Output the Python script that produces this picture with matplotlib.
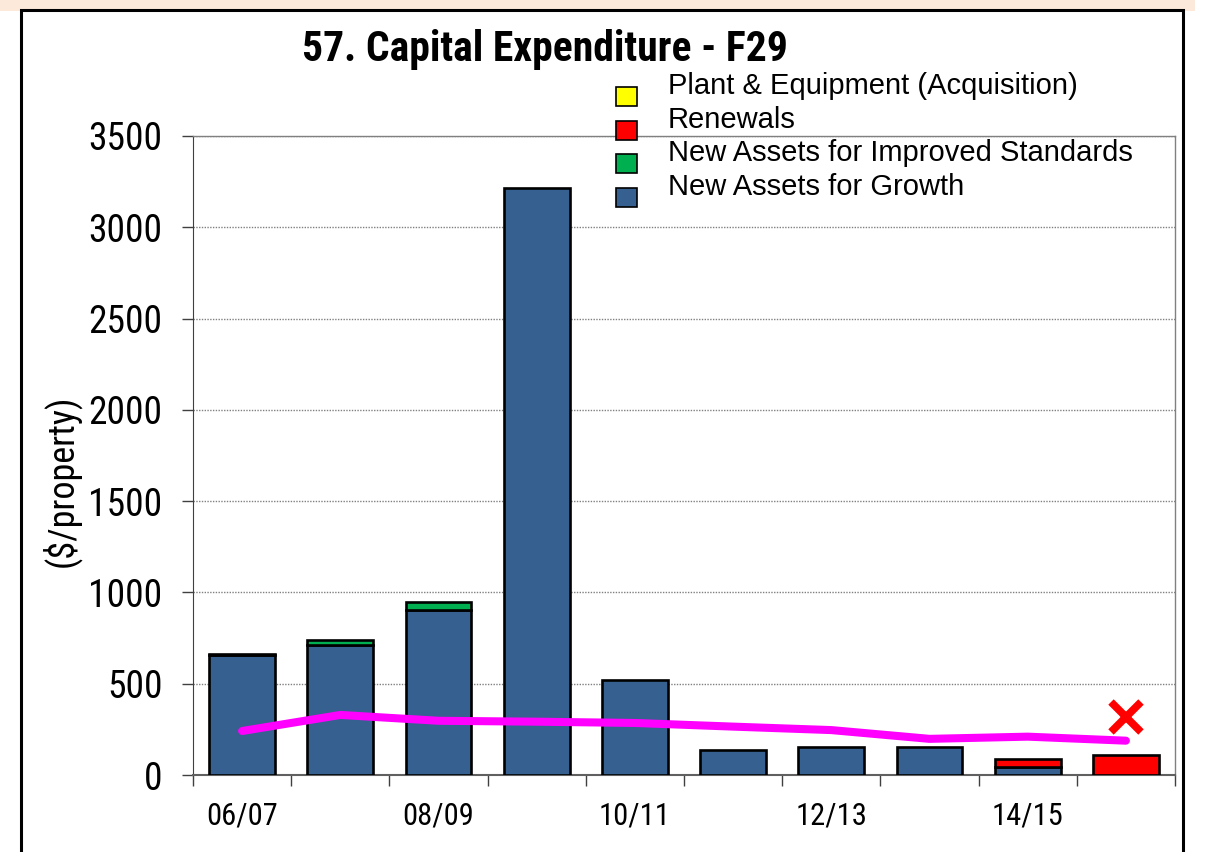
import matplotlib
matplotlib.use("Agg")
import matplotlib.pyplot as plt
from matplotlib.patches import Rectangle
import numpy as np

# ---- data ----
categories = ["06/07", "07/08", "08/09", "09/10", "10/11", "11/12", "12/13", "13/14", "14/15", "15/16"]
growth = [655, 710, 905, 3215, 520, 137, 152, 152, 42, 0]
improved = [10, 28, 45, 0, 0, 0, 0, 0, 0, 0]
renewals = [0, 0, 0, 0, 0, 0, 0, 0, 44, 110]
plant = [0, 0, 0, 0, 0, 0, 0, 0, 0, 0]
median_line = [241, 329, 297, 292, 285, 265, 246, 198, 210, 188]
target_x_value = 318
yticks = [0, 500, 1000, 1500, 2000, 2500, 3000, 3500]
legend_labels = ["Plant & Equipment (Acquisition)", "Renewals",
                 "New Assets for Improved Standards", "New Assets for Growth"]
legend_colors = ["#FFFF00", "#FF0000", "#00B050", "#36608F"]

NARROW = ["Roboto Condensed", "Liberation Sans", "DejaVu Sans"]
REG = ["Liberation Sans", "DejaVu Sans"]

W, H = 1209, 852
fig = plt.figure(figsize=(W / 100, H / 100), dpi=100)
fig.patch.set_facecolor("white")

# peach strip at top and black frame
fig.patches.append(Rectangle((0, 1 - 11 / H), 1195 / W, 11 / H, transform=fig.transFigure,
                             facecolor="#FDE9D9", edgecolor="none", zorder=0))
fig.patches.append(Rectangle((21 / W, -0.05), (1183 - 21) / W, 1 - 10 / H + 0.05,
                             transform=fig.transFigure, facecolor="none",
                             edgecolor="black", linewidth=2.2, zorder=1))

ax = fig.add_axes([193 / W, 1 - 775 / H, (1175 - 193) / W, (775 - 136) / H])
x = np.arange(len(categories))
bw = 0.67
bottom = np.zeros(len(categories))
for vals, col in [(growth, legend_colors[3]), (improved, legend_colors[2]),
                  (renewals, legend_colors[1]), (plant, legend_colors[0])]:
    v = np.array(vals, dtype=float)
    mask = v > 0
    ax.bar(x[mask], v[mask], bw, bottom=bottom[mask], color=col,
           edgecolor="black", linewidth=1.9, zorder=3)
    bottom += v

ax.plot(x, median_line, color="#FF00FF", linewidth=5.8, solid_capstyle="round", zorder=4)
ax.plot([x[-1]], [target_x_value], marker="x", color="#FF0000", markersize=21,
        markeredgewidth=5.5, linestyle="none", zorder=5)

ax.set_xlim(-0.5, len(categories) - 0.5)
ax.set_ylim(0, 3500)
ax.set_yticks(yticks)
ax.set_yticklabels([str(t) for t in yticks], fontsize=27, family=NARROW)
ax.tick_params(axis="y", length=8, width=1, direction="out", pad=14, color="#404040")
ax.yaxis.grid(True, linestyle=(0, (1, 1)), color="#808080", linewidth=1, zorder=0)
ax.set_axisbelow(True)

ax.set_xticks(np.arange(-0.5, len(categories), 1.0))
ax.set_xticklabels([])
ax.tick_params(axis="x", which="major", length=8, width=1, direction="out", color="#404040")
ax.set_xticks(x[::2], minor=True)
ax.set_xticklabels(categories[::2], minor=True, fontsize=22, family=NARROW)
ax.tick_params(axis="x", which="minor", length=0, pad=19)

for s in ["top", "right"]:
    ax.spines[s].set_color("#808080")
    ax.spines[s].set_linewidth(1)
ax.spines["left"].set_color("#404040")
ax.spines["bottom"].set_color("#606060")
ax.spines["bottom"].set_linewidth(1.5)

fig.text(61 / W, 1 - 481 / H, "($/property)", rotation=90, ha="center", va="center",
         fontsize=26, family=NARROW)
fig.text(545 / W, 1 - 50 / H, "57. Capital Expenditure - F29", ha="center", va="center",
         fontsize=30, fontweight="bold", family=NARROW)

# legend
for i, (lab, col) in enumerate(zip(legend_labels, legend_colors)):
    ty = 86 + i * 33.6
    fig.patches.append(Rectangle((616 / W, 1 - (ty + 20) / H), 21 / W, 19 / H,
                                 transform=fig.transFigure, facecolor=col,
                                 edgecolor="black", linewidth=1.2, zorder=6))
    fig.text(668 / W, 1 - ty / H, lab, ha="left", va="center", fontsize=21, family=REG)

fig.savefig("out.png", dpi=100)
